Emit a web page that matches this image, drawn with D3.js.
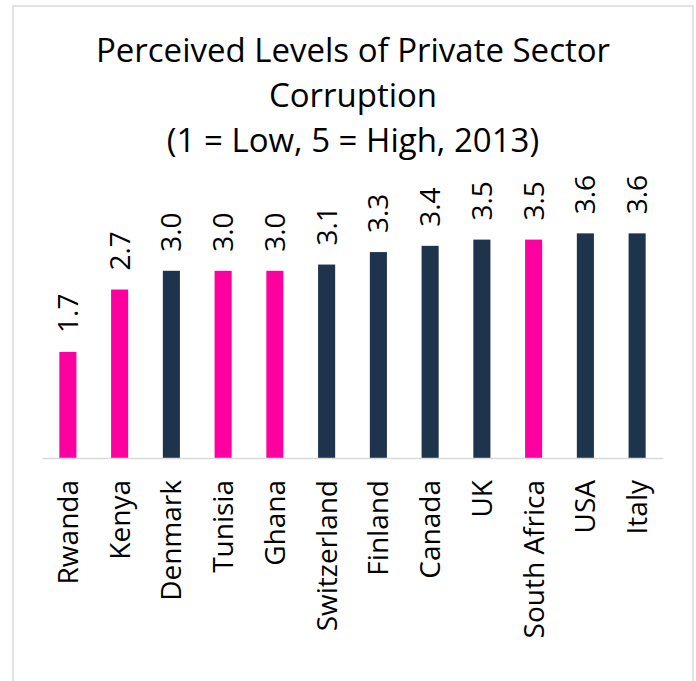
<!DOCTYPE html>
<html>
<head>
<meta charset="utf-8">
<script src="https://cdn.jsdelivr.net/npm/d3@7"></script>
<style>
  body { margin: 0; background: #fff; }
  text { font-family: "Open Sans", sans-serif; fill: #000; }
</style>
</head>
<body>
<script>
// chart data
var countries = ["Rwanda", "Kenya", "Denmark", "Tunisia", "Ghana", "Switzerland",
    "Finland", "Canada", "UK", "South Africa", "USA", "Italy"];
var scores = [1.7, 2.7, 3.0, 3.0, 3.0, 3.1, 3.3, 3.4, 3.5, 3.5, 3.6, 3.6];
var african = ["Rwanda", "Kenya", "Tunisia", "Ghana", "South Africa"];
var titleLines = ["Perceived Levels of Private Sector", "Corruption", "(1 = Low, 5 = High, 2013)"];

var width = 696, height = 681;

var svg = d3.select("body").append("svg")
    .attr("width", width)
    .attr("height", height);

// outer frame
svg.append("rect")
    .attr("x", 13)
    .attr("y", 6)
    .attr("width", 680)
    .attr("height", 700)
    .attr("fill", "none")
    .attr("stroke", "#d9d9d9")
    .attr("stroke-width", 1.5);

// title
svg.append("g").selectAll("text")
    .data(titleLines)
    .enter().append("text")
    .attr("x", 353)
    .attr("y", function (d, i) { return 62 + i * 45; })
    .attr("text-anchor", "middle")
    .style("font-size", "33px")
    .text(function (d) { return d; });

// scales
var x = d3.scaleBand()
    .domain(countries)
    .range([42, 663])
    .paddingInner(0.67)
    .paddingOuter(0.335);

var y = d3.scaleLinear()
    .domain([0, 5])
    .range([458, 146]);

// bars
svg.append("g").selectAll("rect")
    .data(countries)
    .enter().append("rect")
    .attr("x", function (d) { return x(d); })
    .attr("y", function (d, i) { return y(scores[i]); })
    .attr("width", x.bandwidth())
    .attr("height", function (d, i) { return y(0) - y(scores[i]); })
    .attr("fill", function (d) {
        return african.indexOf(d) >= 0 ? "#ff00a0" : "#1e344d";
    });

// value labels
svg.append("g").selectAll("text")
    .data(countries)
    .enter().append("text")
    .attr("transform", function (d, i) {
        return "translate(" + (x(d) + x.bandwidth() / 2) + "," + (y(scores[i]) - 19) + ") rotate(-90)";
    })
    .attr("dy", "0.36em")
    .attr("text-anchor", "start")
    .style("font-size", "28px")
    .text(function (d, i) { return scores[i].toFixed(1); });

// x axis
var xAxis = d3.axisBottom(x).tickSize(0).tickSizeOuter(0);

var axisG = svg.append("g")
    .attr("transform", "translate(0," + y(0) + ")")
    .call(xAxis);

axisG.select(".domain")
    .attr("stroke", "#d9d9d9")
    .attr("stroke-width", 1.5);

axisG.selectAll(".tick text")
    .attr("transform", "translate(0,22) rotate(-90)")
    .attr("x", 0)
    .attr("y", 0)
    .attr("dy", "0.36em")
    .attr("text-anchor", "end")
    .style("font-size", "28px")
    .style("font-family", "'Open Sans', sans-serif")
    .attr("fill", "#000");
</script>
</body>
</html>
